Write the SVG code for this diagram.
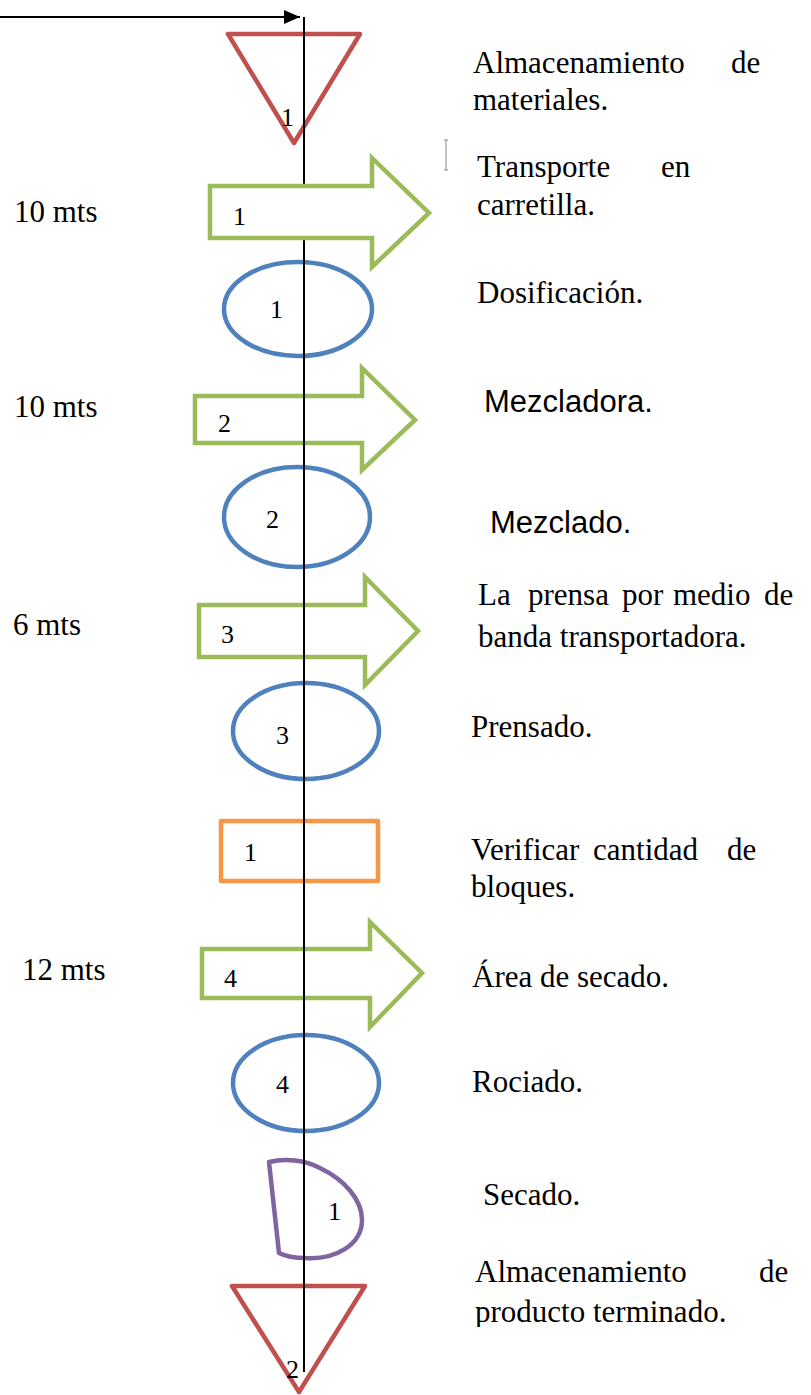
<svg xmlns="http://www.w3.org/2000/svg" width="811" height="1395" viewBox="0 0 811 1395">
<style>
.serif{font-family:"Liberation Serif","Times New Roman",serif;fill:#000}
.sans{font-family:"Liberation Sans",Arial,sans-serif;fill:#000}
.big{font-size:31px}
.lbl{font-size:26px}
.tri{fill:none;stroke:#C0504D;stroke-width:4.5;stroke-linejoin:round}
.arr{fill:none;stroke:#9BBB59;stroke-width:4.5}
.ell{fill:none;stroke:#4F81BD;stroke-width:4.5}
.insp{fill:none;stroke:#F79646;stroke-width:4.5;stroke-linejoin:round}
.del{fill:none;stroke:#8064A2;stroke-width:4.5;stroke-linejoin:round}
.conn{stroke:#000;stroke-width:2;fill:none}
</style>
<defs>
<marker id="ah" markerWidth="8" markerHeight="7" refX="8" refY="3.5" orient="auto" markerUnits="strokeWidth">
<path d="M0,0 L8,3.5 L0,7 Z" fill="#000"/>
</marker>
<clipPath id="clipBottom"><rect x="0" y="0" width="811" height="1327"/></clipPath>
</defs>
<rect width="811" height="1395" fill="#fff"/>

<g id="node-almacen1">
<polygon class="tri" points="228,34 360,34 294,143"/>
<text class="serif lbl" x="281" y="126">1</text>
</g>
<g id="node-dosif">
<ellipse class="ell" cx="298" cy="309" rx="74" ry="47"/>
<text class="serif lbl" x="270" y="318">1</text>
</g>
<g id="node-transp2">
<polygon class="arr" points="195,396 362,396 362,368 415,420 362,470 362,443 195,443"/>
<text class="serif lbl" x="218" y="432">2</text>
</g>
<g id="node-mezclado">
<ellipse class="ell" cx="297" cy="517" rx="73" ry="50"/>
<text class="serif lbl" x="266" y="528">2</text>
</g>
<g id="node-transp3">
<polygon class="arr" points="199,605 365,605 365,577 418,631 365,685 365,657 199,657"/>
<text class="serif lbl" x="221" y="643">3</text>
</g>
<g id="node-prensado">
<ellipse class="ell" cx="306" cy="731" rx="73" ry="48"/>
<text class="serif lbl" x="276" y="744">3</text>
</g>
<g id="node-verificar">
<rect class="insp" x="221" y="821" width="157" height="60"/>
<text class="serif lbl" x="244" y="861">1</text>
</g>
<g id="node-transp4">
<polygon class="arr" points="202,949 370,949 370,922 422,973 370,1027 370,998 202,998"/>
<text class="serif lbl" x="224" y="987">4</text>
</g>
<g id="node-rociado">
<ellipse class="ell" cx="306" cy="1083" rx="73" ry="48"/>
<text class="serif lbl" x="276" y="1093">4</text>
</g>
<g id="node-secado">
<path class="del" d="M269,1162 C285,1158 305,1160 320,1168 C345,1180 362,1200 362,1220 C362,1245 335,1260 305,1258 C295,1258 285,1256 279,1253 Z"/>
<text class="serif lbl" x="328" y="1220">1</text>
</g>
<g id="node-almacen2">
<polygon class="tri" points="232,1286 365,1286 299,1392"/>
<text class="serif lbl" x="286" y="1378">2</text>
</g>

<g id="connectors">
<line class="conn" x1="0" y1="17" x2="300" y2="17" marker-end="url(#ah)"/>
<line class="conn" x1="304" y1="17" x2="304" y2="1372"/>
</g>

<g id="node-transp1">
<polygon class="arr" points="210,186 372,186 372,158 429,213 372,267 372,238 210,238" style="fill:#fff"/>
<text class="serif lbl" x="233" y="225">1</text>
</g>

<path d="M444,140 H448 M446,140 V170 M444,170 H448" stroke="#888" stroke-width="1" fill="none"/>

<g id="distances" class="serif big">
<text x="14" y="222">10 mts</text>
<text x="14" y="417">10 mts</text>
<text x="13" y="635">6 mts</text>
<text x="22" y="980">12 mts</text>
</g>

<g id="descriptions" class="serif big">
<text x="473" y="73">Almacenamiento</text>
<text x="731" y="73">de</text>
<text x="473" y="110">materiales.</text>
<text x="477" y="177">Transporte</text>
<text x="661" y="177">en</text>
<text x="477" y="215">carretilla.</text>
<text x="477" y="303">Dosificación.</text>
<text class="sans" x="484" y="412">Mezcladora.</text>
<text class="sans" x="490" y="533">Mezclado.</text>
<text x="478" y="605">La</text>
<text x="528" y="605">prensa</text>
<text x="622" y="605">por</text>
<text x="673" y="605">medio</text>
<text x="764" y="605">de</text>
<text x="478" y="647">banda transportadora.</text>
<text x="471" y="737">Prensado.</text>
<text x="471" y="860">Verificar</text>
<text x="593" y="860">cantidad</text>
<text x="727" y="860">de</text>
<text x="471" y="897">bloques.</text>
<text x="472" y="987">Área de secado.</text>
<text x="472" y="1092">Rociado.</text>
<text x="483" y="1205">Secado.</text>
<text x="475" y="1282">Almacenamiento</text>
<text x="759" y="1282">de</text>
<text x="475" y="1322" clip-path="url(#clipBottom)">producto terminado.</text>
</g>
</svg>
